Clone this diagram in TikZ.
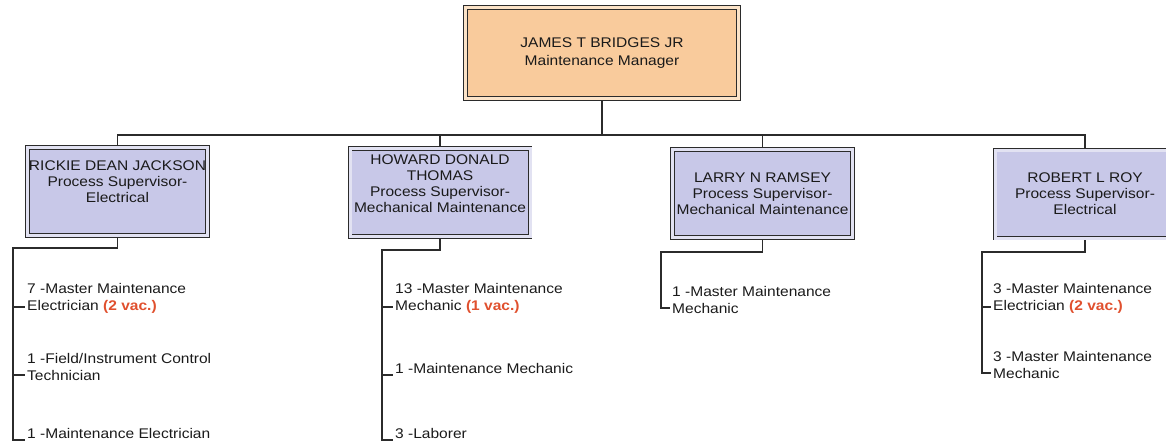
\documentclass[tikz,border=0pt]{standalone}
\usepackage{fontspec}
\setmainfont{Liberation Sans}[FakeStretch=1.11]
\usepackage{tikz}
\usetikzlibrary{positioning}
\definecolor{orgline}{HTML}{2B2B2B}
\definecolor{orgtext}{HTML}{1A1A1A}
\definecolor{mgrfill}{HTML}{F9CB9C}
\definecolor{mgrgap}{HTML}{FBE3C8}
\definecolor{supfill}{HTML}{C8C8E8}
\definecolor{supgap}{HTML}{E2E2F2}
\definecolor{vacred}{HTML}{E0502E}

\newcommand{\vacancy}[1]{\textcolor{vacred}{\bfseries(#1 vac.)}}

\begin{document}
\begin{tikzpicture}[
        x=1pt, y=-1pt,
        font=\fontsize{14}{16}\selectfont,
        box/.style={
            draw=orgline,
            line width=0.9pt,
            double distance=3pt,
            align=center,
            inner sep=0pt,
            outer sep=2.4pt,
            text=orgtext
        },
        mgrbox/.style={
            box,
            fill=mgrfill,
            double=mgrgap,
            font=\fontsize{14}{18}\selectfont,
            minimum width=273pt,
            minimum height=91pt
        },
        supbox/.style={
            box,
            fill=supfill,
            double=supgap,
            minimum width=180pt,
            minimum height=88pt
        },
        item/.style={anchor=west, align=left, inner sep=2pt, text=orgtext,
            font=\fontsize{14}{17}\selectfont},
        wire/.style={draw=orgline, line width=1.3pt}
    ]
        \useasboundingbox (0,0) rectangle (1166,445);

        % manager and supervisors
        \node[mgrbox] (mgr) at (602,53) {JAMES T BRIDGES JR\\Maintenance Manager};
        \node[supbox] (rickie) at (117.5,191.5) {RICKIE DEAN JACKSON\\Process Supervisor-\\Electrical\\[3pt]};
        \node[supbox] (howard) at (440,192.5) {HOWARD DONALD\\THOMAS\\Process Supervisor-\\Mechanical Maintenance\\[2pt]};
        \node[supbox] (larry) at (762.5,193.5) {LARRY N RAMSEY\\Process Supervisor-\\Mechanical Maintenance};
        \node[supbox] (robert) at (1085,194) {ROBERT L ROY\\Process Supervisor-\\Electrical};

        % top bus
        \coordinate (bus) at (602,135);
        \draw[wire] (mgr.south) -- (bus);
        \draw[wire] (rickie.north) -- (rickie.north |- bus) -- (robert.north |- bus) -- (robert.north);
        \draw[wire] (howard.north) -- (howard.north |- bus);
        \draw[wire] (larry.north) -- (larry.north |- bus);

        % Rickie's crew
        \coordinate (rbar) at (13,248);
        \coordinate (r1t) at (25,307);
        \coordinate (r2t) at (25,375);
        \coordinate (r3t) at (25,440);
        \node[item] (r1) at ([yshift=8.5pt]r1t) {7 -Master Maintenance\\Electrician \vacancy{2}};
        \node[item] (r2) at ([yshift=8.5pt]r2t) {1 -Field/Instrument Control\\Technician};
        \node[item] (r3) at ([yshift=7pt]r3t) {1 -Maintenance Electrician};
        \draw[wire] (rickie.south) |- (rbar) |- (r3t);
        \draw[wire] (r1t -| rbar) -- (r1t);
        \draw[wire] (r2t -| rbar) -- (r2t);

        % Howard's crew
        \coordinate (hbar) at (382,250);
        \coordinate (h1t) at (393,307);
        \coordinate (h2t) at (393,375);
        \coordinate (h3t) at (393,440);
        \node[item] (h1) at ([yshift=8.5pt]h1t) {13 -Master Maintenance\\Mechanic \vacancy{1}};
        \node[item] (h2) at ([yshift=7pt]h2t) {1 -Maintenance Mechanic};
        \node[item] (h3) at ([yshift=7pt]h3t) {3 -Laborer};
        \draw[wire] (howard.south) |- (hbar) |- (h3t);
        \draw[wire] (h1t -| hbar) -- (h1t);
        \draw[wire] (h2t -| hbar) -- (h2t);

        % Larry's crew
        \coordinate (lbar) at (661,252);
        \coordinate (l1t) at (670,308);
        \node[item] (l1) at ([yshift=8.5pt]l1t) {1 -Master Maintenance\\Mechanic};
        \draw[wire] (larry.south) |- (lbar) |- (l1t);

        % Robert's crew
        \coordinate (obar) at (982,252);
        \coordinate (o1t) at (991,307);
        \coordinate (o2t) at (991,373);
        \node[item] (o1) at ([yshift=8.5pt]o1t) {3 -Master Maintenance\\Electrician \vacancy{2}};
        \node[item] (o2) at ([yshift=8.5pt]o2t) {3 -Master Maintenance\\Mechanic};
        \draw[wire] (robert.south) |- (obar) |- (o2t);
        \draw[wire] (o1t -| obar) -- (o1t);
    \end{tikzpicture}
\end{document}
